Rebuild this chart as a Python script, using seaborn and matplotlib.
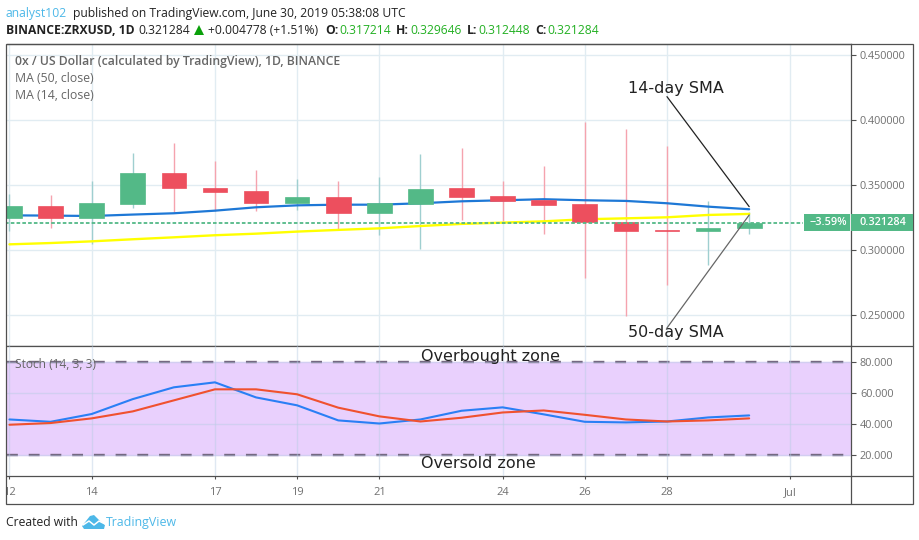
import matplotlib
matplotlib.use("Agg")
import matplotlib.pyplot as plt
from matplotlib.patches import Rectangle, Polygon
from matplotlib.transforms import Bbox
import pandas as pd
import seaborn as sns

# Daily candles, June 2019
days = list(range(12, 31))
opens = [0.3250, 0.3342, 0.3250, 0.3358, 0.3596, 0.3481, 0.3458, 0.3365, 0.3412, 0.3289,
         0.3358, 0.3481, 0.3419, 0.3388, 0.3358, 0.3222, 0.3161, 0.3150, 0.3172]
closes = [0.3342, 0.3250, 0.3365, 0.3596, 0.3481, 0.3450, 0.3365, 0.3412, 0.3289, 0.3365,
          0.3473, 0.3412, 0.3381, 0.3350, 0.3222, 0.3150, 0.3152, 0.3173, 0.3213]
highs = [0.3435, 0.3427, 0.3535, 0.3750, 0.3827, 0.3688, 0.3619, 0.3550, 0.3535, 0.3565,
         0.3742, 0.3788, 0.3535, 0.3650, 0.3988, 0.3935, 0.3804, 0.3381, 0.3296]
lows = [0.3150, 0.3173, 0.3053, 0.3327, 0.3296, 0.3304, 0.3306, 0.3312, 0.3163, 0.3119,
        0.3014, 0.3234, 0.3227, 0.3127, 0.2788, 0.2499, 0.2734, 0.2888, 0.3124]
ma14 = [0.3270, 0.3268, 0.3265, 0.3276, 0.3286, 0.3306, 0.3332, 0.3347, 0.3352, 0.3352,
        0.3363, 0.3378, 0.3386, 0.3394, 0.3386, 0.3381, 0.3363, 0.3337, 0.3317]
ma50 = [0.3047, 0.3057, 0.3070, 0.3086, 0.3101, 0.3117, 0.3129, 0.3145, 0.3158, 0.3170,
        0.3188, 0.3204, 0.3214, 0.3224, 0.3240, 0.3247, 0.3255, 0.3273, 0.3281]
stoch_k = [43.2, 41.7, 46.7, 56.3, 63.9, 67.1, 57.4, 52.3, 42.6, 40.6,
           43.2, 48.8, 51.0, 46.5, 41.7, 41.3, 41.9, 44.5, 45.8]
stoch_d = [39.8, 40.9, 43.9, 48.4, 55.5, 62.6, 62.6, 59.4, 50.8, 45.2,
           41.9, 44.3, 47.7, 49.0, 46.2, 43.2, 41.9, 42.6, 43.9]
last_price = 0.321284

price_ticks = [0.25, 0.30, 0.35, 0.40, 0.45]
stoch_ticks = [20, 40, 60, 80]
date_ticks = [12, 14, 17, 19, 21, 24, 26, 28, 31]
date_labels = ["12", "14", "17", "19", "21", "24", "26", "28", "Jul"]

GREEN = "#53b987"
RED = "#ed4f5e"
GRID = "#e1ecf2"
FRAME = "#505050"
TICK = "#707070"
FONT = "Open Sans"

df = pd.DataFrame({"day": days, "open": opens, "close": closes, "high": highs, "low": lows,
                   "ma14": ma14, "ma50": ma50, "k": stoch_k, "d": stoch_d})
up = df[df["close"] >= df["open"]]
down = df[df["close"] < df["open"]]

sns.set_theme(style="white")
plt.rcParams["font.family"] = [FONT, "DejaVu Sans"]

W, H = 920, 540
fig = plt.figure(figsize=(W / 100, H / 100), dpi=100)


def box(left, top, right, bottom):
    return [left / W, 1 - bottom / H, (right - left) / W, (bottom - top) / H]


ax = fig.add_axes(box(7, 44, 851.5, 346))
ax2 = fig.add_axes(box(7, 346, 851.5, 476), sharex=ax)

# price panel
for sub, color, wick in [(up, GREEN, "#9fcfd0"), (down, RED, "#f5a3ae")]:
    ax.vlines(sub["day"], sub["low"], sub["high"], color=wick, lw=1, zorder=2)
    ax.bar(sub["day"], (sub["close"] - sub["open"]).abs(), bottom=sub[["open", "close"]].min(axis=1),
           width=0.6, color=color, edgecolor=color, linewidth=0.5, zorder=3)
sns.lineplot(data=df, x="day", y="ma50", ax=ax, color="#ffff00", lw=1.7, zorder=2.5)
sns.lineplot(data=df, x="day", y="ma14", ax=ax, color="#1e78d6", lw=1.6, zorder=2.5)
ax.plot([11.9, 31.32], [last_price, last_price], color=GREEN, lw=1.3, ls=(0, (2, 1.2)), zorder=5)

ax.set_ylim(0.2265, 0.4588)
ax.set_yticks(price_ticks)
ax.set_yticklabels([f"{v:.6f}" for v in price_ticks])
ax.grid(True, color=GRID, lw=1)
ax.set_axisbelow(True)
ax.tick_params(axis="x", bottom=False, labelbottom=False)

# stochastic panel
ax2.axhspan(20, 80, color="#e9d0fd", zorder=0)
ax2.grid(True, color="#b8cce4", lw=1, alpha=0.45, zorder=1)
ax2.set_axisbelow(False)
for gl in ax2.get_xgridlines() + ax2.get_ygridlines():
    gl.set_zorder(1)
sns.lineplot(data=df, x="day", y="k", ax=ax2, color="#2a7ff5", lw=1.5, zorder=3)
sns.lineplot(data=df, x="day", y="d", ax=ax2, color="#f0512f", lw=1.5, zorder=4)
for level in [20, 80]:
    ax2.axhline(level, color="#6f6079", lw=1.7, ls=(0, (4.6, 4.6)), zorder=2)
ax2.set_ylim(6.8, 90.5)
ax2.set_yticks(stoch_ticks)
ax2.set_yticklabels([f"{v:.3f}" for v in stoch_ticks])
ax2.set_xlim(11.94, 32.49)
ax2.set_xticks(date_ticks)
ax2.set_xticklabels(date_labels)

for a in (ax, ax2):
    a.set_xlabel("")
    a.set_ylabel("")
    a.yaxis.tick_right()
    a.tick_params(axis="y", right=True, length=3.6, width=0.8, color=FRAME, labelcolor=TICK,
                  labelsize=7.8, pad=2.5)
    for s in a.spines.values():
        s.set_color(FRAME)
        s.set_linewidth(0.9)
    a.spines["left"].set_visible(False)
ax2.tick_params(axis="x", bottom=True, length=2.2, width=0.8, color=FRAME, labelcolor=TICK,
                labelsize=8.0, pad=5.5)
for lab in ax2.get_xticklabels():
    lab.set_clip_on(True)
    lab.set_clip_box(Bbox([[7, 0], [W, H]]))

# arrows from the labels to the moving averages
ax.annotate("", xy=(30.0, 0.3337), xytext=(28.0, 0.4183), annotation_clip=False,
            arrowprops=dict(arrowstyle="-", color="#222222", lw=0.9, shrinkA=0, shrinkB=0))
ax.annotate("", xy=(30.0, 0.3273), xytext=(28.0, 0.2404), annotation_clip=False,
            arrowprops=dict(arrowstyle="-", color="#666666", lw=0.9, shrinkA=0, shrinkB=0))

# everything else placed in image pixels
ov = fig.add_axes([0, 0, 1, 1], facecolor="none")
ov.set_xlim(0, W)
ov.set_ylim(H, 0)
ov.axis("off")

ov.add_patch(Rectangle((6.5, 43.5), 907, 460, fill=False, ec=FRAME, lw=0.9))
ov.plot([851.5, 851.5], [476, 503.5], color=FRAME, lw=0.9)
ov.plot([851.5, 913.5], [476, 476], color=FRAME, lw=0.9)
ov.plot([851.5, 913.5], [346, 346], color=FRAME, lw=0.9)

ov.add_patch(Rectangle((804, 214), 46, 17, color=GREEN, lw=0))
ov.add_patch(Rectangle((851.5, 214), 62, 17, color=GREEN, lw=0))
ov.text(828, 222.5, "\u22123.59%", color="white", fontsize=7.8, ha="center", va="center", weight="semibold")
ov.text(882.5, 222.5, "0.321284", color="white", fontsize=7.8, ha="center", va="center", weight="semibold")

head = dict(fontsize=8.76, va="center", color="#222222")
ov.text(6, 13, "analyst102", **{**head, "color": "#4db8e8"})
ov.text(73, 13, "published on TradingView.com, June 30, 2019 05:38:08 UTC", **head)
ov.text(6, 30, "BINANCE:ZRXUSD, 1D", weight="bold", **head)
ov.text(138, 30, "0.321284", **head)
ov.add_patch(Polygon([[194, 35], [204, 35], [199, 25]], color="#0aa00a", lw=0))
ov.text(208, 30, "+0.004778 (+1.51%)", **head)
for lx, label, vx, value in [(325, "O:", 339, "0.317214"), (396, "H:", 410, "0.329646"),
                             (467, "L:", 478, "0.312448"), (535, "C:", 547, "0.321284")]:
    ov.text(lx, 30, label, weight="bold", **head)
    ov.text(vx, 30, value, **{**head, "color": "#22b022"})

leg = dict(fontsize=8.85, va="center", color="#666666")
ov.text(15, 61, "0x / US Dollar (calculated by TradingView), 1D, BINANCE", weight="semibold", **leg)
ov.text(15, 78.5, "MA (50, close)", **leg)
ov.text(15, 95.5, "MA (14, close)", **leg)
ov.text(15, 364, "Stoch (14, 3, 3)", **{**leg, "fontsize": 8.6})

note = dict(fontsize=11.55, family="DejaVu Sans", color="#222222", va="center")
ov.text(628, 88, "14-day SMA", **note)
ov.text(628, 333, "50-day SMA", **note)
ov.text(421, 357, "Overbought zone", **note)
ov.text(421, 463, "Oversold zone", **note)

ov.text(6, 522.5, "Created with", fontsize=8.76, color="#222222", va="center")
ov.add_patch(Polygon([[82, 526], [90, 516], [94, 515], [99, 520], [105, 525], [104, 529], [84, 529]],
                     color="#4db8e8", lw=0))
ov.plot([83, 89, 94, 99, 105], [525, 521, 525, 521, 524], color="white", lw=1.1)
ov.text(106, 522.5, "TradingView", fontsize=8.9, color="#4db8e8", va="center")

fig.savefig("out.png", dpi=100)
